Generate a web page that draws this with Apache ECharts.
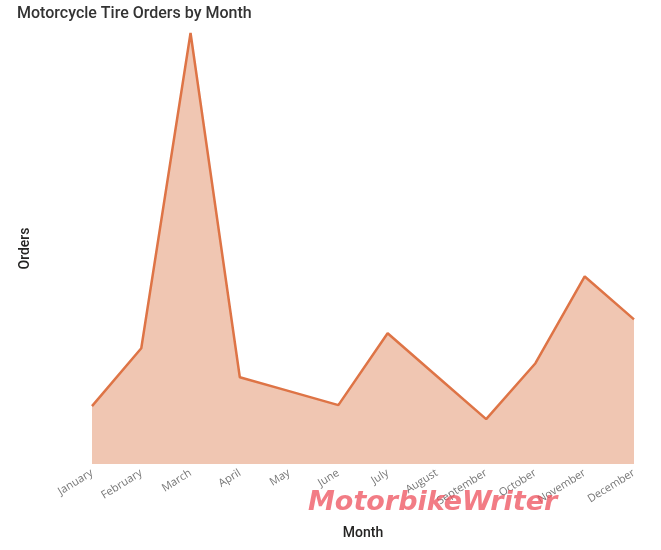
<!DOCTYPE html>
<html>
<head>
    <meta charset="utf-8">
    <title>Motorcycle Tire Orders by Month</title>
    <script src="https://cdn.jsdelivr.net/npm/echarts@6/dist/echarts.min.js"></script>
    <style>
        html, body { margin: 0; padding: 0; background: #fff; }
        #chart { width: 661px; height: 550px; }
    </style>
</head>
<body>
<div id="chart"></div>
<script>
    // values (no axis labels, so units are relative)
    var months = ['January', 'February', 'March', 'April', 'May', 'June',
        'July', 'August', 'September', 'October', 'November', 'December'];
    var orders = [58, 116, 432, 87, 73, 59, 131, 88, 45, 101, 188, 145];

    var myChart = echarts.init(document.getElementById('chart'));
    var option = {
        animation: false,
        title: {
            text: 'Motorcycle Tire Orders by Month',
            left: 12,
            top: 1,
            textStyle: {
                fontFamily: 'Roboto',
                fontSize: 16,
                fontWeight: 500,
                color: '#333'
            }
        },
        grid: {
            left: 92,
            right: 27,
            top: 33,
            bottom: 86
        },
        xAxis: {
            type: 'category',
            data: months,
            boundaryGap: false,
            name: 'Month',
            nameLocation: 'middle',
            nameGap: 62,
            nameTextStyle: {
                fontFamily: 'Roboto',
                fontSize: 14,
                fontWeight: 500,
                color: '#252423'
            },
            axisLine: { show: false },
            axisTick: { show: false },
            axisLabel: {
                rotate: 32,
                interval: 0,
                margin: 8,
                fontFamily: 'Open Sans',
                fontSize: 11,
                color: '#777'
            }
        },
        yAxis: {
            type: 'value',
            min: 0,
            max: 432,
            name: 'Orders',
            nameLocation: 'middle',
            nameGap: 60,
            nameTextStyle: {
                fontFamily: 'Roboto',
                fontSize: 14,
                fontWeight: 500,
                color: '#252423'
            },
            axisLine: { show: false },
            axisTick: { show: false },
            axisLabel: { show: false },
            splitLine: { show: false }
        },
        series: [{
            type: 'line',
            data: orders,
            symbol: 'none',
            lineStyle: { color: '#DE7446', width: 2.5 },
            areaStyle: { color: '#F0C6B2', opacity: 1 }
        }],
        graphic: [{
            type: 'text',
            left: 308,
            top: 489,
            z: 100,
            style: {
                text: 'MotorbikeWriter',
                font: 'italic bold 27px "DejaVu Sans"',
                fill: 'rgba(238, 80, 92, 0.75)'
            }
        }]
    };
    myChart.setOption(option);
</script>
</body>
</html>
